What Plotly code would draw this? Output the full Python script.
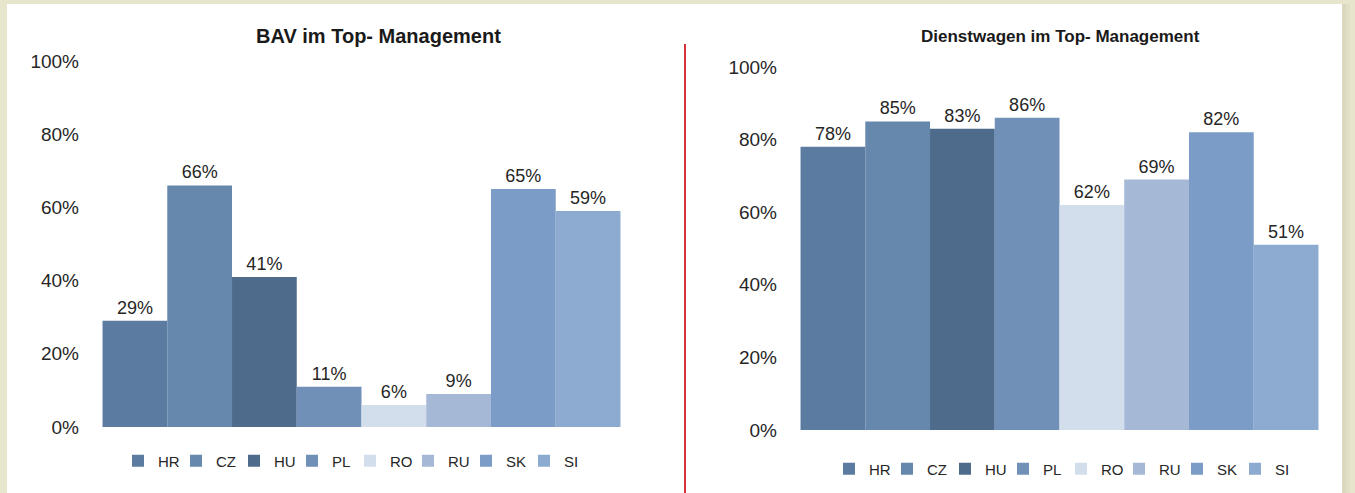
import plotly.graph_objects as go

countries = ["HR", "CZ", "HU", "PL", "RO", "RU", "SK", "SI"]
bav_values = [29, 66, 41, 11, 6, 9, 65, 59]
dienstwagen_values = [78, 85, 83, 86, 62, 69, 82, 51]
colors = ["#5b7ba1", "#6688ad", "#4f6b8c", "#7090b8", "#d3deec", "#a5b9d7", "#7a9cc6", "#8daad0"]
titles = ["BAV im Top- Management", "Dienstwagen im Top- Management"]
tick_vals = [0, 20, 40, 60, 80, 100]
tick_text = ["0%", "20%", "40%", "60%", "80%", "100%"]

W, H = 1355, 493
FONT = "Liberation Sans Narrow, Arial Narrow, Liberation Sans, Arial, sans-serif"
TXT = "#262626"

fig = go.Figure()

for i, c in enumerate(countries):
    fig.add_trace(go.Bar(
        x=["cat"], y=[bav_values[i]], name=c, marker=dict(color=colors[i], line=dict(width=0)),
        text=[f"{bav_values[i]}%"], textposition="outside", textfont=dict(size=18, color=TXT, family=FONT),
        cliponaxis=False, xaxis="x", yaxis="y", legend="legend", hoverinfo="name+y"))
for i, c in enumerate(countries):
    fig.add_trace(go.Bar(
        x=["cat"], y=[dienstwagen_values[i]], name=c, marker=dict(color=colors[i], line=dict(width=0)),
        text=[f"{dienstwagen_values[i]}%"], textposition="outside", textfont=dict(size=18, color=TXT, family=FONT),
        cliponaxis=False, xaxis="x2", yaxis="y2", legend="legend2", hoverinfo="name+y"))

def px_x(p):
    return p / W

def px_y(p):
    return 1 - p / H

yaxis_common = dict(range=[0, 100], tickvals=tick_vals, ticktext=tick_text, showgrid=False,
                    zeroline=False, showline=False, ticks="", ticklabelstandoff=6,
                    tickfont=dict(size=19, color=TXT, family=FONT))
xaxis_common = dict(showticklabels=False, showgrid=False, zeroline=False, showline=False, ticks="")

legend_common = dict(orientation="h", xanchor="left", yanchor="middle", entrywidth=13,
                     font=dict(size=15, color=TXT, family=FONT), bgcolor="rgba(0,0,0,0)",
                     itemclick=False, itemdoubleclick=False)

fig.update_layout(
    width=W, height=H, margin=dict(l=0, r=0, t=0, b=0, autoexpand=False),
    paper_bgcolor="#e8e5cd", plot_bgcolor="rgba(0,0,0,0)",
    barmode="group", bargap=0.06, bargroupgap=0,
    font=dict(family=FONT, color=TXT),
    xaxis=dict(domain=[px_x(86), px_x(637)], **xaxis_common),
    yaxis=dict(domain=[px_y(427), px_y(61)], anchor="x", **yaxis_common),
    xaxis2=dict(domain=[px_x(784), px_x(1335)], anchor="y2", **xaxis_common),
    yaxis2=dict(domain=[px_y(430), px_y(67)], anchor="x2", **yaxis_common),
    showlegend=True,
    legend=dict(x=px_x(118), y=px_y(461), **legend_common),
    legend2=dict(x=px_x(829), y=px_y(469), **legend_common),
    annotations=[
        dict(text=f"<b>{titles[0]}</b>", x=px_x(378), y=px_y(36), xref="paper", yref="paper",
             xanchor="center", yanchor="middle",
             showarrow=False, font=dict(size=20, color="#1a1a1a", family=FONT)),
        dict(text=f"<b>{titles[1]}</b>", x=px_x(1060), y=px_y(36), xref="paper", yref="paper",
             xanchor="center", yanchor="middle",
             showarrow=False, font=dict(size=17, color="#1a1a1a", family=FONT)),
    ],
    shapes=[
        dict(type="rect", xref="paper", yref="paper", x0=px_x(7), x1=px_x(1342), y0=0, y1=px_y(4),
             fillcolor="white", line=dict(width=0), layer="below"),
        dict(type="rect", xref="paper", yref="paper", x0=px_x(1342), x1=px_x(1346), y0=0, y1=px_y(4),
             fillcolor="#dcd8bd", line=dict(width=0), layer="below"),
        dict(type="rect", xref="paper", yref="paper", x0=px_x(1346), x1=px_x(1350), y0=0, y1=px_y(4),
             fillcolor="#e2dfc6", line=dict(width=0), layer="below"),
        dict(type="line", xref="paper", yref="paper", x0=px_x(685), x1=px_x(685), y0=0, y1=px_y(44),
             line=dict(color="#d9313c", width=2)),
    ],
)

fig.write_html("out.html")
